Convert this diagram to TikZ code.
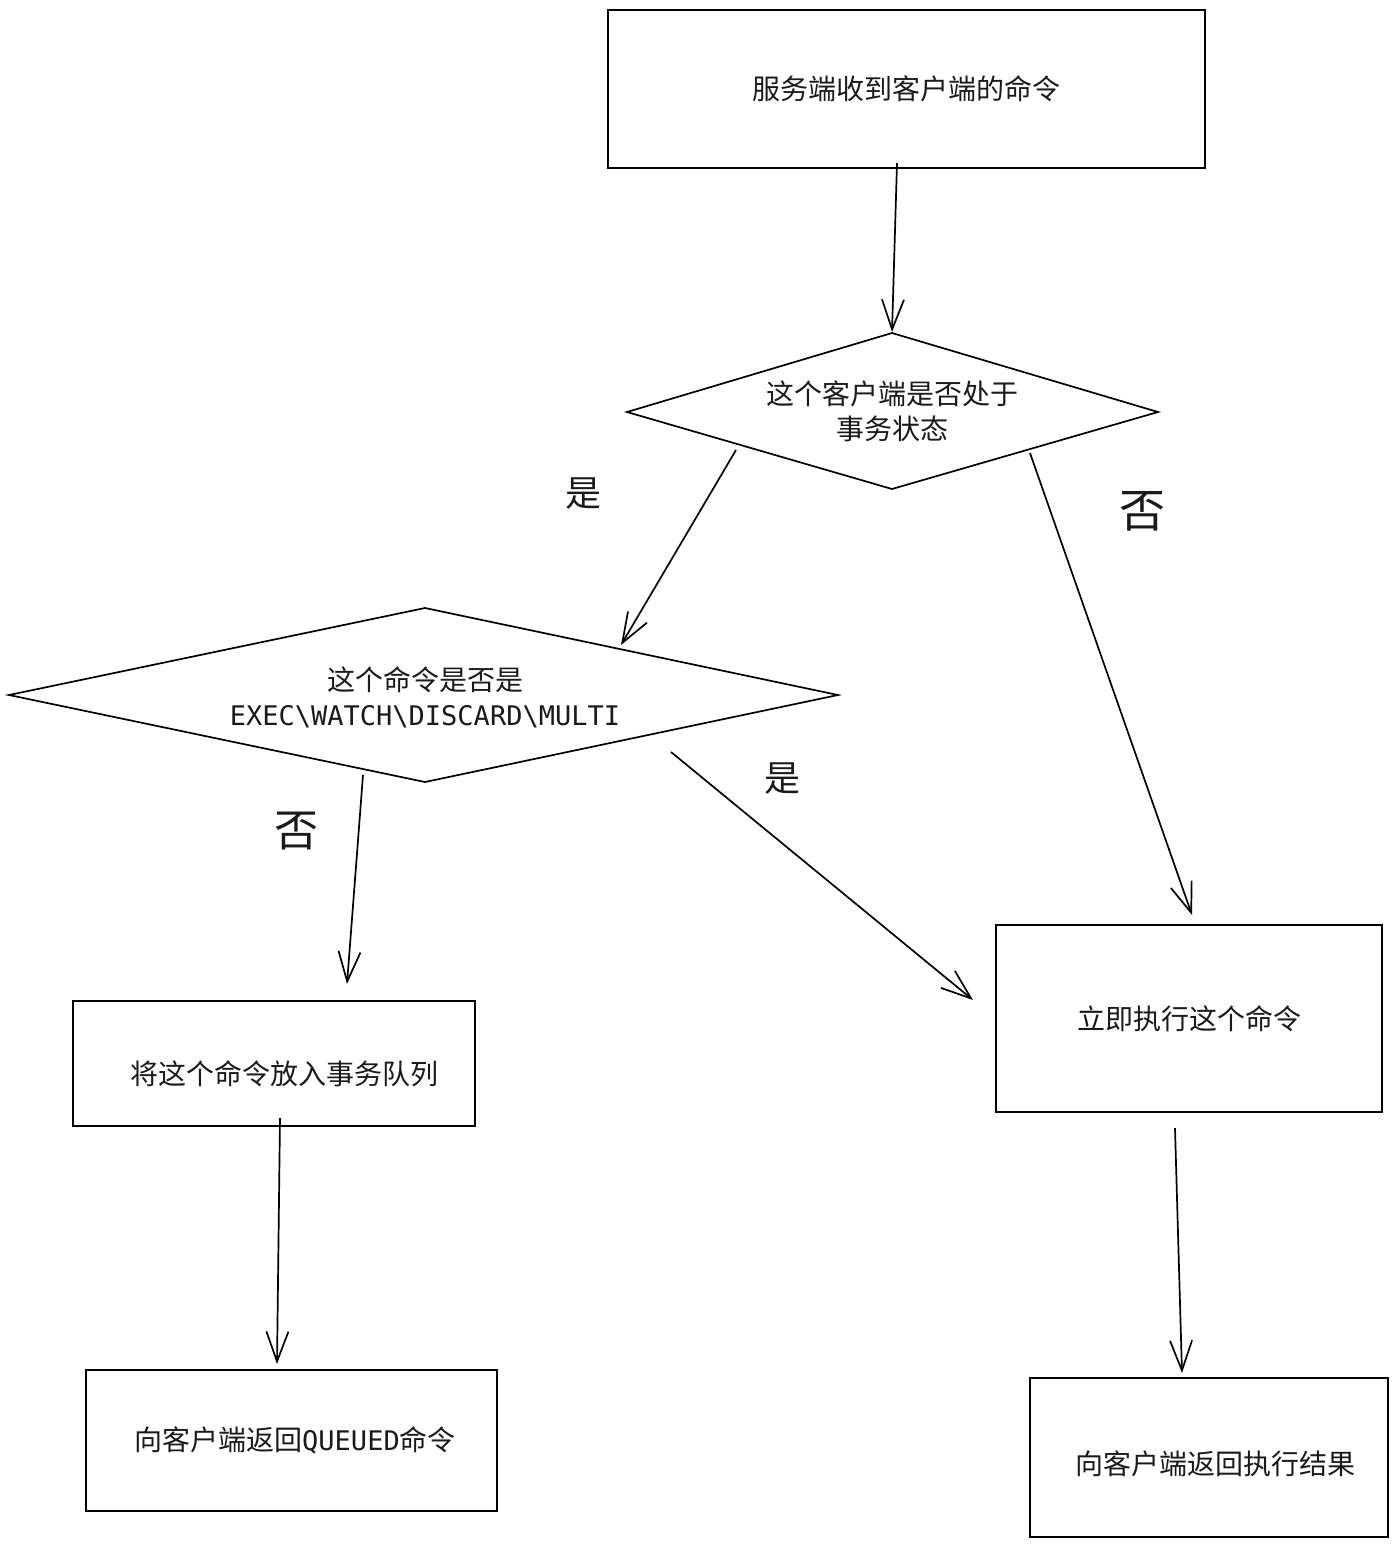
\documentclass[tikz,border=0pt]{standalone}
\usepackage{fontspec}
\setmainfont{Noto Sans CJK SC}
\setmonofont{DejaVu Sans Mono}
\usetikzlibrary{arrows.meta}
\definecolor{ink}{HTML}{1A1A1A}
\tikzset{
  box/.style={draw=black, line width=1.7pt, fill=none},
  txt/.style={text=ink, font=\fontsize{28}{35}\selectfont, align=center, inner sep=0pt},
  lbl/.style={text=ink, inner sep=0pt},
  conn/.style={draw=black, line width=1.7pt, -{Straight Barb[length=30pt,width=22pt,line width=1.7pt]}},
}
\newcommand{\monot}[1]{{\ttfamily\fontsize{27}{35}\selectfont #1}}
\begin{document}
\begin{tikzpicture}[x=1pt,y=-1pt]
\useasboundingbox (0,0) rectangle (1398,1548);
% boxes
\draw[box] (608,10) rectangle (1205,168);
\node[txt] (b1) at (906,89) {服务端收到客户端的命令};
\draw[box] (627,412) -- (892,333) -- (1158,412) -- (892,489) -- cycle;
\node[txt] (d1) at (892,411) {这个客户端是否处于\\事务状态};
\draw[box] (9,695) -- (425,608) -- (838,695) -- (425,782) -- cycle;
\node[txt] (d2) at (425,697) {这个命令是否是\\\monot{EXEC\textbackslash WATCH\textbackslash DISCARD\textbackslash MULTI}};
\draw[box] (73,1001) rectangle (475,1126);
\node[txt] (q) at (284,1074) {将这个命令放入事务队列};
\draw[box] (996,925) rectangle (1382,1112);
\node[txt] (ex) at (1189,1019) {立即执行这个命令};
\draw[box] (86,1370) rectangle (497,1511);
\node[txt] (rq) at (295,1440) {向客户端返回\monot{QUEUED}命令};
\draw[box] (1030,1378) rectangle (1388,1537);
\node[txt] (rr) at (1215,1464) {向客户端返回执行结果};
% connector end points
\coordinate (a1s) at (897,163); \coordinate (a1e) at (892,332);
\coordinate (a2s) at (736,450); \coordinate (a2e) at (621,645);
\coordinate (a3s) at (1030,453); \coordinate (a3e) at (1192,915);
\coordinate (a4s) at (363,775); \coordinate (a4e) at (347,984);
\coordinate (a5s) at (671,752); \coordinate (a5e) at (973,1000);
\coordinate (a6s) at (280,1118); \coordinate (a6e) at (277,1364);
\coordinate (a7s) at (1175,1128); \coordinate (a7e) at (1182,1373);
\draw[conn] (a1s) -- (a1e);
\draw[conn] (a2s) -- (a2e);
\draw[conn] (a3s) -- (a3e);
\draw[conn] (a4s) -- (a4e);
\draw[conn] (a5s) -- (a5e);
\draw[conn] (a6s) -- (a6e);
\draw[conn] (a7s) -- (a7e);
% labels
\node[lbl, font=\fontsize{36}{36}\selectfont] (l1) at (583,494) {是};
\node[lbl, font=\fontsize{46}{46}\selectfont] (l2) at (1142,511) {否};
\node[lbl, font=\fontsize{44}{44}\selectfont] (l3) at (296,831) {否};
\node[lbl, font=\fontsize{36}{36}\selectfont] (l4) at (782,779) {是};
\end{tikzpicture}
\end{document}
